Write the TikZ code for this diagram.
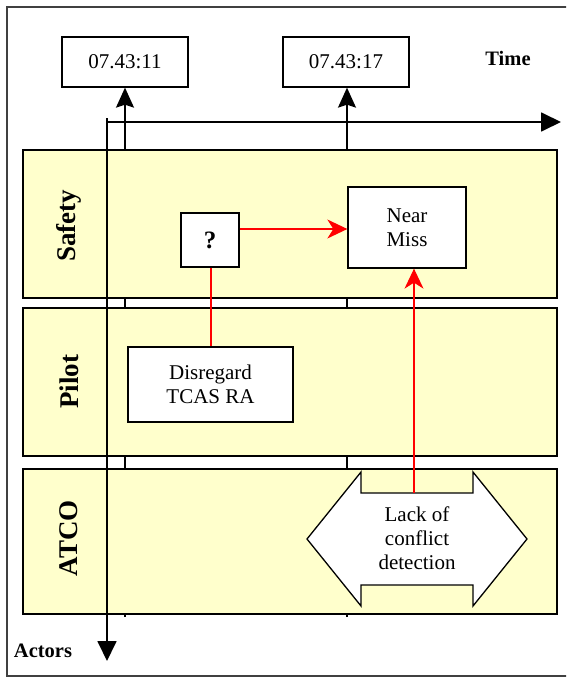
\documentclass[tikz,border=0pt]{standalone}
\usepackage{fontspec}
\setmainfont{Liberation Serif}
\usetikzlibrary{arrows.meta}
\definecolor{lanefill}{HTML}{FFFFCC}
\tikzset{
  lanebox/.style={draw, fill=lanefill, line width=1.3pt, minimum width=534pt, inner sep=0pt},
  whitebox/.style={draw, fill=white, line width=1.3pt, inner sep=0pt, align=center, font=\fontsize{21}{24}\selectfont},
  lanelabel/.style={rotate=90, font=\bfseries\fontsize{27}{30}\selectfont, inner sep=0pt},
  axislbl/.style={font=\bfseries\fontsize{20.5}{24}\selectfont, inner sep=0pt},
  blackhead/.style={-{Triangle[length=20pt,width=19pt]}},
  redarrow/.style={red, line width=1.3pt, -{Stealth[length=20pt,width=19pt,inset=6pt]}},
  redline/.style={red, line width=1.3pt},
  tickline/.style={line width=1.5pt, -{Stealth[length=20pt,width=18pt,inset=3pt]}}
}
\begin{document}
\begin{tikzpicture}[x=1pt,y=-1pt]
\clip (0,0) rectangle (566,677);
\fill[white] (0,0) rectangle (566,677);
% outer frame
\draw[black!75, line width=1.3pt] (7,7) rectangle (580,676);

% time stamp boxes
\node[whitebox, minimum width=126pt, minimum height=50pt] (t1) at (125,62) {07.43:11};
\node[whitebox, minimum width=126pt, minimum height=50pt] (t2) at (346,62) {07.43:17};
\node[axislbl] (time) at (508,58) {Time};
\node[axislbl] (actors) at (43,651) {Actors};

% tick lines (behind lanes)
\coordinate (b1) at (125,617);
\coordinate (b2) at (347,617);
\draw[tickline] (b1) -- (b1 |- t1.south);
\draw[tickline] (b2) -- (b2 |- t2.south);

% lanes
\node[lanebox, minimum height=148pt] (safety) at (290,224) {};
\node[lanebox, minimum height=148pt] (pilot) at (290,382) {};
\node[lanebox, minimum height=145pt] (atco) at (290,541.5) {};
\node[lanelabel] (lsafety) at (69,226) {Safety};
\node[lanelabel] (lpilot) at (69,382) {Pilot};
\node[lanelabel] (latco) at (69,538) {ATCO};

% axes
\coordinate (origin) at (107,122);
\coordinate (xend) at (561,122);
\coordinate (yend) at (107,661);
\coordinate (ystart) at (107,118);
\draw[line width=1.8pt, blackhead] (origin) -- (xend);
\draw[line width=1.8pt, blackhead] (ystart) -- (yend);

% event boxes
\node[whitebox, minimum width=58pt, minimum height=54pt, font=\bfseries\fontsize{25}{28}\selectfont] (q) at (210,240) {?};
\node[whitebox, minimum width=118pt, minimum height=81pt] (near) at (407,227.5) {Near\\Miss};
\node[whitebox, minimum width=165pt, minimum height=75pt] (dis) at (210.5,384.5) {Disregard\\TCAS RA};

% double arrow
\draw[fill=white, line width=1.3pt, line join=miter]
  (307,539) -- (361,472) -- (361,493) -- (473,493) -- (473,472) -- (527,539)
  -- (473,606) -- (473,585) -- (361,585) -- (361,606) -- cycle;
\node[align=center, inner sep=0pt, font=\fontsize{21}{24}\selectfont] (lack) at (417,538) {Lack of\\conflict\\detection};
\coordinate (lacktop) at (414,493);

% red connectors
\draw[redline] (q.south -| 211,0) -- (dis.north -| 211,0);
\draw[redarrow] (q.east |- 0,229) -- (near.west |- 0,229);
\draw[redarrow] (lacktop) -- (lacktop |- near.south);
\end{tikzpicture}
\end{document}
